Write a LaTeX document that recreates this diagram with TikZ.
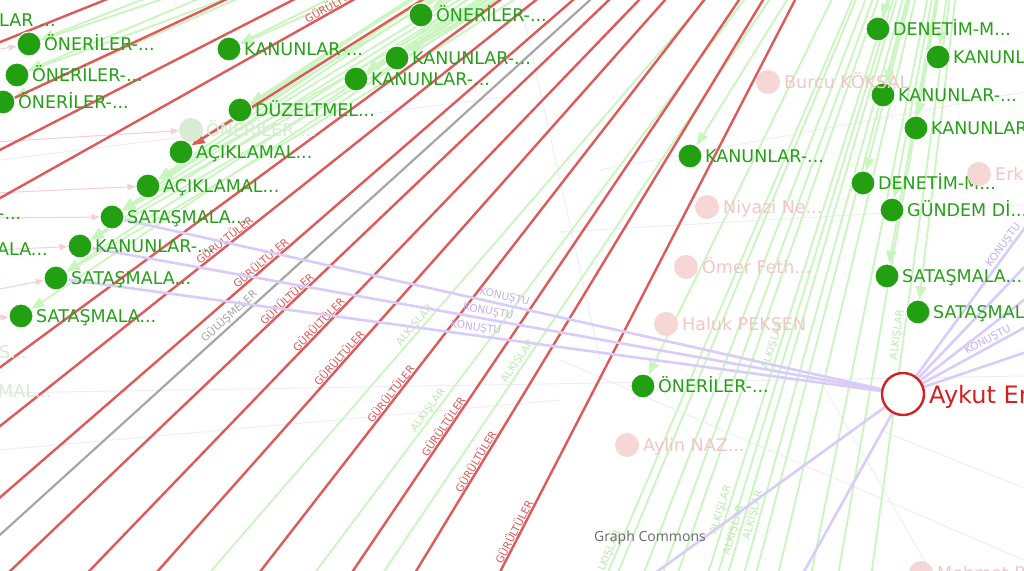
\documentclass[tikz,border=0pt]{standalone}
\usepackage{fontspec}
\setmainfont{DejaVu Sans}
\newfontfamily\gcfont{Noto Sans}
\usetikzlibrary{arrows.meta,calc}
\pgfdeclarelayer{lbg}\pgfdeclarelayer{lfaint}\pgfdeclarelayer{lgreen}\pgfdeclarelayer{lred}\pgfdeclarelayer{lpurple}
\pgfsetlayers{lbg,lfaint,lgreen,lred,lpurple,main}
\definecolor{gnode}{RGB}{34,160,18}
\definecolor{glabel}{RGB}{38,160,24}
\definecolor{gline}{RGB}{200,246,190}
\definecolor{galab}{RGB}{186,236,174}
\definecolor{rline}{RGB}{222,90,90}
\definecolor{grayline}{RGB}{166,166,166}
\definecolor{pline}{RGB}{218,204,250}
\definecolor{plabel}{RGB}{196,178,240}
\definecolor{pnode}{RGB}{247,214,214}
\definecolor{ptext}{RGB}{243,198,198}
\definecolor{fadegreen}{RGB}{216,236,212}
\definecolor{fadetext}{RGB}{216,234,212}
\definecolor{aykut}{RGB}{214,32,32}
\definecolor{faintl}{RGB}{240,236,250}
\definecolor{faintp}{RGB}{246,208,208}
\definecolor{gctext}{RGB}{112,112,112}
\newcommand\labfont{\fontsize{17.5}{19}\selectfont}
\newcommand\elabfont{\fontsize{10.5}{11}\selectfont}
\newcommand\eli{...}
\begin{document}
\begin{tikzpicture}[x=1pt,y=-1pt,
  gn/.style={circle,fill=gnode,draw=white,line width=1pt,minimum size=24pt,inner sep=0pt},
  fn/.style={circle,fill=fadegreen,minimum size=24pt,inner sep=0pt},
  pn/.style={circle,fill=pnode,minimum size=24pt,inner sep=0pt},
  glab/.style={anchor=base west,inner sep=0pt,text=glabel,font=\labfont},
  flab/.style={anchor=base west,inner sep=0pt,text=fadetext,font=\labfont},
  plab/.style={anchor=base west,inner sep=0pt,text=ptext,font=\labfont},
  redge/.style={draw=rline,line width=2.4pt},
  grayedge/.style={draw=grayline,line width=2.2pt},
  gedge/.style={draw=gline,line width=1.8pt},
  garrow/.style={gedge,-{Triangle[length=13pt,width=10pt]}},
  pedge/.style={draw=pline,line width=2.6pt},
  fedge/.style={draw=faintl,line width=1pt},
  fparrow/.style={draw=faintp,line width=1pt,-{Triangle[length=8pt,width=6pt]}},
  elab/.style={font=\elabfont,sloped,above,inner sep=1.5pt}
]
\useasboundingbox (0,0) rectangle (1024,570);
\clip (0,0) rectangle (1024,570);
\begin{pgfonlayer}{lbg}
  \fill[white] (-20,-20) rectangle (1044,590);
\end{pgfonlayer}

% sources (off-picture person at top right)
\coordinate (Sr) at (975,-349);
\coordinate (Sg) at (995,-335);

% green topic nodes
\foreach \n/\x/\y/\t in {
  g1/29/44/ÖNERİLER-\eli,
  g2/17/75/ÖNERİLER-\eli,
  g3/3/102/ÖNERİLER-\eli,
  g4/229/49/KANUNLAR-\eli,
  g5/421/15/ÖNERİLER-\eli,
  g6/397/58/KANUNLAR-\eli,
  g7/356/79/KANUNLAR-\eli,
  g8/240/110/DÜZELTMEL\eli,
  g10/181/152/AÇIKLAMAL\eli,
  g11/148/186/AÇIKLAMAL\eli,
  g12/112/217/SATAŞMALA\eli,
  g13/80/246/KANUNLAR-\eli,
  g14/56/278/SATAŞMALA\eli,
  g15/21/316/SATAŞMALA\eli,
  g16/690/156/KANUNLAR-\eli,
  g17/878/29/DENETİM-M\eli,
  g18/938/57/KANUNLAR-\eli,
  g19/883/95/KANUNLAR-\eli,
  g20/916/128/KANUNLAR-\eli,
  g21/863/183/DENETİM-M\eli,
  g22/892/210/GÜNDEM Dİ\eli,
  g23/887/276/SATAŞMALA\eli,
  g24/918/312/SATAŞMALA\eli,
  g25/643/386/ÖNERİLER-\eli}{
  \node[gn] (\n) at (\x,\y) {};
  \node[glab] (l\n) at (\x+15,\y+6) {\t};
}
\node[fn] (g9) at (191,130) {};
\node[flab] (lg9) at (206,136) {ÖNERİLER-\eli};

% partial labels of nodes beyond the left edge
\node[glab] (lx1) at (-1,26) {LAR \eli};
\node[glab] (lx2) at (-2,219) {-\eli};
\node[glab] (lx3) at (-3,255) {ALA\eli};
\node[flab] (lx4) at (-1,358) {S\eli};
\node[flab] (lx5) at (-2,397) {MAL\eli};

% person nodes
\foreach \n/\x/\y/\t in {
  p1/768/82/Burcu KÖKSAL,
  p2/979/174/Erk,
  p3/707/207/Niyazi Ne\eli,
  p4/686/267/Ömer Feth\eli,
  p5/666/324/Haluk PEKŞEN,
  p6/627/445/Aylin NAZ\eli,
  p7/921/573/Mehmet P}{
  \node[pn] (\n) at (\x,\y) {};
  \node[plab] (l\n) at (\x+16,\y+6) {\t};
}
\node[circle,draw=aykut,line width=2.4pt,fill=white,minimum size=42pt,inner sep=0pt] (ay) at (903,394) {};
\node[anchor=base west,inner sep=0pt,text=aykut,font=\fontsize{24}{26}\selectfont] (lay) at (929,403) {Aykut Erdoğdu};

\node[text=gctext,font=\gcfont\fontsize{14}{16}\selectfont,inner sep=0pt] (gc) at (650,538) {Graph Commons};

% faint background edges
\begin{pgfonlayer}{lfaint}
  \foreach \a/\b/\c/\d/\i in {0/393/1024/376/1, 560/360/1024/560/2, 600/170/1024/92/3,
     560/232/1024/205/4, 880/430/1024/488/5, 0/160/520/95/6, 820/380/930/570/7,
     520/0/600/360/8, 0/450/560/400/9}{
    \coordinate (fa\i) at (\a,\b); \coordinate (fb\i) at (\c,\d);
    \draw[fedge] (fa\i) -- (fb\i);
  }
  \foreach \y/\n/\i in {50/g1/1,142/g9/2,193/g11/3,218/g12/4,250/g13/5,290/g14/6,318/g15/7}{
    \coordinate (fp\i) at (-5,\y);
    \draw[fparrow] (fp\i) -- (\n);
  }
\end{pgfonlayer}

% green ALKISLAR edges
\begin{pgfonlayer}{lgreen}
  \foreach \xb/\i in {212/1,317/2,385/3,609/4,619/5,645/6,664/7,679/8,709/9,719/10,
      729/11,745/12,757/13,779/14,812/15,839/16,872/17}{
    \coordinate (ge\i) at ($(Sg)!1.3!(\xb,570)$);
    \draw[gedge] (Sg) -- (ge\i);
  }
  \foreach \i/\p in {1/0.565,2/0.637,3/0.595,4/0.758,9/0.72,11/0.737,12/0.724,17/0.57,9/0.58}{
    \path (Sg) -- (ge\i) node[elab,text=galab,pos=\p] {ALKIŞLAR};
  }
  \foreach \n in {g1,g2,g3,g4,g5,g6,g7,g8,g10,g11,g12,g13,g14,g15,g16,g17,g18,g19,g20,g21,g22,g23,g24,g25}{
    \draw[garrow] (Sg) -- (\n);
  }
  \foreach \n/\b in {g12/3,g12/-3,g13/3,g11/3,g11/-3,g10/-3,g6/3,g7/-3,g4/3,g14/3,g8/-3,g1/3,g2/3}{
    \draw[garrow] (Sg) to[bend left=\b] (\n);
  }
\end{pgfonlayer}

% red GURULTULER edges and the grey one
\begin{pgfonlayer}{lred}
  \foreach \xt/\i in {105/1,225/2,293/3,353/4,500/5,536/6,573/7,609/8,639/9,665/10,
      704/11,739/12,763/13,795/14}{
    \coordinate (re\i) at ($(Sr)!3!(\xt,0)$);
    \draw[redge] (Sr) -- (re\i);
  }
  \foreach \i/\p in {4/0.341,6/0.567,7/0.589,8/0.623,9/0.647,10/0.679,11/0.713,12/0.744,13/0.777,14/0.844}{
    \path (Sr) -- (re\i) node[elab,text=rline,pos=\p] {GÜRÜLTÜLER};
  }
  \coordinate (gy) at ($(Sr)!3!(590,0)$);
  \draw[grayedge] (Sr) -- (gy) node[elab,text=grayline,pos=0.641] {GÜLÜŞMELER};
  \draw[redge,-{Triangle[length=13pt,width=10pt]}] (Sr) -- (g10);
\end{pgfonlayer}

% purple KONUSTU edges
\begin{pgfonlayer}{lpurple}
  \draw[pedge] (ay) -- (g12) node[elab,text=plabel,pos=0.5] {KONUŞTU};
  \draw[pedge] (ay) -- (g13) node[elab,text=plabel,pos=0.5] {KONUŞTU};
  \draw[pedge] (ay) -- (g14) node[elab,text=plabel,pos=0.5] {KONUŞTU};
  \foreach \x/\y/\i in {1045/200/1,1055/235/2,1065/268/3,1075/300/4,1085/332/5}{
    \coordinate (pr\i) at (\x,\y);
    \draw[pedge] (ay) -- (pr\i);
  }
  \path (ay) -- (pr1) node[elab,text=plabel,pos=0.72] {KONUŞTU};
  \path (ay) -- (pr4) node[elab,text=plabel,pos=0.45] {KONUŞTU};
  \coordinate (pd1) at (590,620);
  \coordinate (pd2) at (777,620);
  \draw[pedge] (ay) -- (pd1);
  \draw[pedge] (ay) -- (pd2);
\end{pgfonlayer}
\end{tikzpicture}
\end{document}
